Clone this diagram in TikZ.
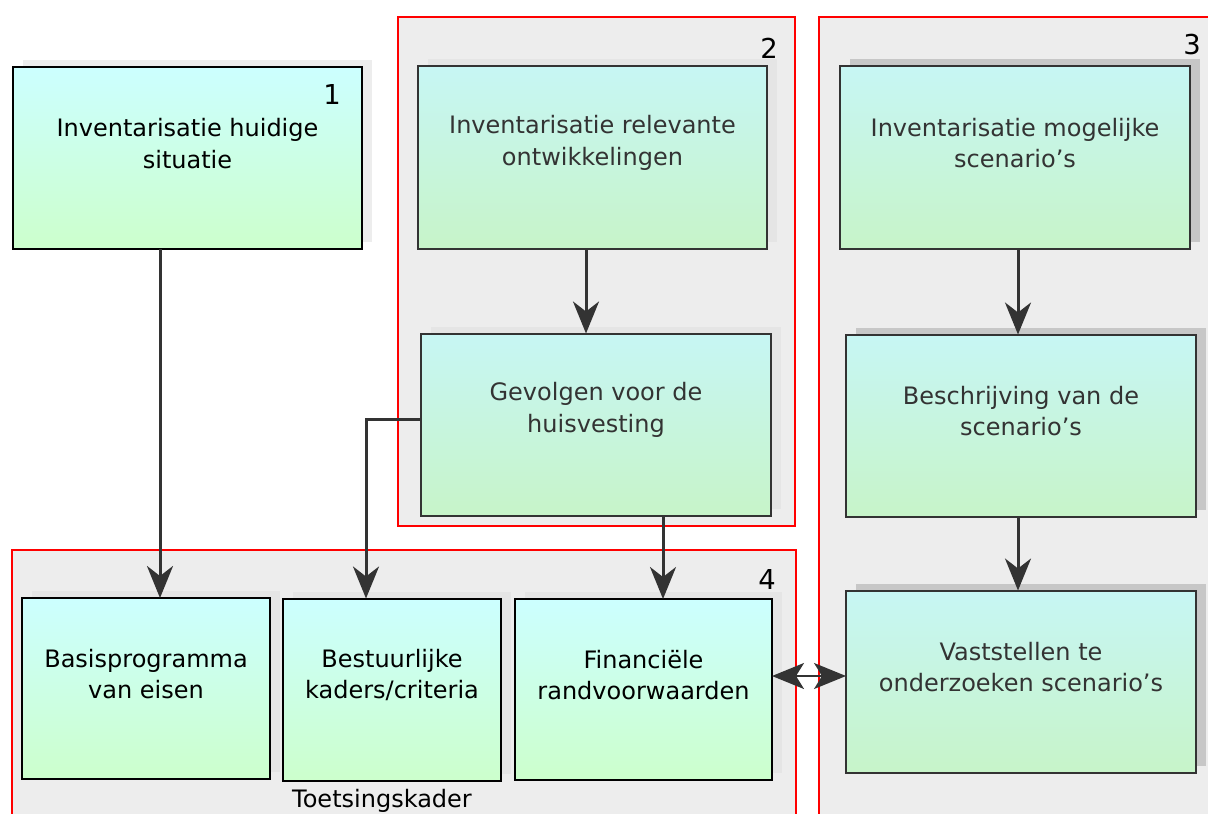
\documentclass[tikz,border=0pt]{standalone}
\usepackage{fontspec}
\setmainfont{DejaVu Sans}
\usetikzlibrary{positioning, arrows.meta, shadows}

\definecolor{boxtop}{RGB}{204,255,255}
\definecolor{boxbodem}{RGB}{204,255,204}
\definecolor{boxtopgrijs}{RGB}{199,246,244}
\definecolor{boxbodemgrijs}{RGB}{199,244,201}
\definecolor{lijn}{RGB}{51,51,51}
\definecolor{paneel}{RGB}{237,237,237}

\tikzset{
  stap/.style={rectangle, draw=black, line width=1pt, top color=boxtop, bottom color=boxbodem,
    minimum width=175pt, minimum height=91pt, inner sep=0pt, outer sep=0pt},
  stapgrijs/.style={stap, draw=lijn, top color=boxtopgrijs, bottom color=boxbodemgrijs},
  schaduw/.style={general shadow={fill=#1, shadow xshift=5pt, shadow yshift=3.5pt}},
  tekst/.style={align=center, font=\fontsize{12}{15.75}\selectfont, yshift=7.25pt},
  tekstgrijs/.style={tekst, text=lijn},
  nummer/.style={font=\fontsize{13.7}{16}\selectfont, inner sep=0pt},
  pijl/.style={draw=lijn, line width=1.5pt, -{Stealth[length=16pt, width=13pt, inset=5pt]}},
  dubbelpijl/.style={draw=lijn, line width=1pt,
    {Stealth[length=16pt, width=13pt, inset=4pt]}-{Stealth[length=16pt, width=13pt, inset=4pt]}},
  groep/.style={draw=red, line width=1pt, fill=paneel}
}

\begin{document}
\begin{tikzpicture}[x=0.5pt, y=-0.5pt]

  \useasboundingbox (0,0) rectangle (1208,813);

  % Groups
  \draw[groep] (398,17) rectangle (795,526);
  \draw[groep] (819,17) rectangle (1230,830);
  \draw[groep] (12,550) rectangle (796,830);

  % Define nodes
  \node[stap, schaduw=black!7, minimum width=174.5pt,
    label={[tekst]center:{Inventarisatie huidige\\situatie}}] (inv) at (187.5,158) {};

  % Ontwikkelingen
  \node[stapgrijs, schaduw=black!10, minimum width=174.5pt, right=28pt of inv, yshift=0.25pt,
    label={[tekstgrijs]center:{Inventarisatie relevante\\ontwikkelingen}}] (ontw) {};
  \node[stapgrijs, schaduw=black!10, below=42.5pt of ontw, xshift=1.75pt,
    label={[tekstgrijs]center:{Gevolgen voor de\\huisvesting}}] (gevolg) {};

  % Scenario's
  \node[stapgrijs, schaduw=black!22, right=36.5pt of ontw,
    label={[tekstgrijs]center:{Inventarisatie mogelijke\\scenario’s}}] (mog) {};
  \node[stapgrijs, schaduw=black!22, below=43pt of mog, xshift=3pt,
    label={[tekstgrijs]center:{Beschrijving van de\\scenario’s}}] (beschr) {};
  \node[stapgrijs, schaduw=black!22, below=37pt of beschr,
    label={[tekstgrijs]center:{Vaststellen te\\onderzoeken scenario’s}}] (vast) {};

  % Toetsingskader
  \node[stap, schaduw=black!10, minimum width=128.5pt, minimum height=90.5pt, left=37pt of vast, yshift=-4pt,
    label={[tekst]center:{Financiële\\randvoorwaarden}}] (fin) {};
  \node[stap, schaduw=black!10, minimum width=109pt, left=7pt of fin,
    label={[tekst]center:{Bestuurlijke\\kaders/criteria}}] (bestuur) {};
  \node[stap, schaduw=black!10, minimum width=124pt, minimum height=90.5pt, left=6.5pt of bestuur, yshift=0.5pt,
    label={[tekst]center:{Basisprogramma\\van eisen}}] (basis) {};

  \node[font=\fontsize{12}{14}\selectfont, anchor=base] (kader) at (382,807) {Toetsingskader};

  % Numbers
  \node[nummer] (n1) at (332,95) {1};
  \node[nummer] (n2) at (769,48) {2};
  \node[nummer] (n3) at (1192,45) {3};
  \node[nummer] (n4) at (767,580) {4};

  % Connectors
  \draw[pijl] ([xshift=-13.75pt]inv.south) -- ([xshift=-13.75pt]inv.south |- basis.north);
  \draw[pijl] ([xshift=-3.25pt]ontw.south) -- ([xshift=-3.25pt]ontw.south |- gevolg.north);
  \draw[pijl] ([yshift=2.5pt]gevolg.west) -| ([xshift=-13pt]bestuur.north);
  \draw[pijl] ([xshift=9.75pt]fin.north |- gevolg.south) -- ([xshift=9.75pt]fin.north);
  \draw[pijl] ([xshift=1.5pt]mog.south) -- ([xshift=1.5pt]mog.south |- beschr.north);
  \draw[pijl] ([xshift=-1.5pt]beschr.south) -- ([xshift=-1.5pt]beschr.south |- vast.north);
  \draw[dubbelpijl] ([yshift=6.75pt]fin.east) -- ([yshift=6.75pt]fin.east -| vast.west);

\end{tikzpicture}
\end{document}
